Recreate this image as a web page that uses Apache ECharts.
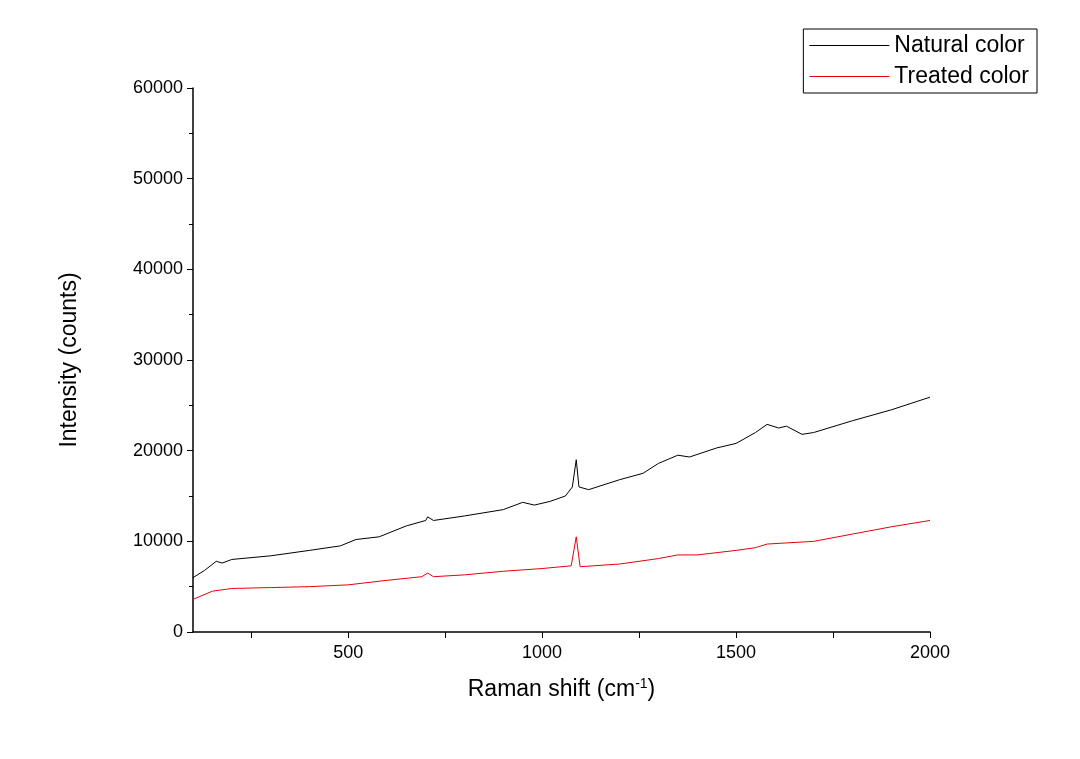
<!DOCTYPE html><html><head><meta charset="utf-8"><script src="https://cdn.jsdelivr.net/npm/echarts@6/dist/echarts.min.js"></script></head><body style="margin:0"><div id="c" style="width:1080px;height:759px"></div><script>
const naturalX=[100,130,160,175,200,300,400,480,520,580,650,700,705,720,800,900,950,980,1020,1060,1078,1088,1095,1120,1200,1260,1300,1350,1380,1450,1500,1550,1580,1610,1630,1670,1700,1800,1900,2000];
const naturalY=[6000,6800,7800,7600,8000,8400,9000,9500,10200,10500,11700,12300,12700,12300,12800,13500,14300,14000,14400,15000,16000,19000,16000,15700,16800,17500,18600,19500,19300,20300,20800,22000,22900,22500,22700,21800,22000,23300,24500,25900];
const treatedX=[100,150,200,300,400,500,600,690,705,720,800,900,1000,1075,1088,1098,1200,1300,1350,1400,1500,1550,1580,1700,1800,1900,2000];
const treatedY=[3600,4500,4800,4900,5000,5200,5700,6100,6500,6100,6300,6700,7000,7300,10500,7200,7500,8100,8500,8500,9000,9300,9700,10000,10800,11600,12300];
const xTicks=[250,500,750,1000,1250,1500,1750,2000];
const xLabels=[500,1000,1500,2000];
const zip=(a,b)=>a.map((v,i)=>[v,b[i]]);
const f='Arial, Liberation Sans, sans-serif';
const ch=echarts.init(document.getElementById('c'));
ch.setOption({animation:false,
grid:{left:193,right:150,top:88,bottom:127},
legend:{right:43,top:29,orient:'vertical',itemWidth:80,itemHeight:1,itemGap:8,padding:[5,8,5,6],borderColor:'#000',borderWidth:1,borderRadius:0,textStyle:{fontFamily:f,fontSize:23,color:'#000'},icon:'rect',data:['Natural color','Treated color']},
xAxis:{type:'value',min:100,max:2000,name:'Raman shift (cm{s|-1})',nameLocation:'middle',nameGap:45,nameTextStyle:{fontFamily:f,fontSize:23,color:'#000',rich:{s:{fontSize:14,verticalAlign:'top',padding:[0,0,12,0]}}},
axisLine:{onZero:false,lineStyle:{color:'#000',width:1.5}},splitLine:{show:false},
axisTick:{customValues:xTicks,inside:false,length:6,lineStyle:{color:'#000'}},
axisLabel:{customValues:xLabels,formatter:v=>String(v),fontFamily:f,fontSize:18,color:'#000',margin:12}},
yAxis:{type:'value',min:0,max:60000,interval:10000,name:'Intensity (counts)',nameLocation:'middle',nameGap:112,nameTextStyle:{fontFamily:f,fontSize:23,color:'#000'},
axisLine:{show:true,lineStyle:{color:'#000',width:1.5}},splitLine:{show:false},
axisTick:{show:true,length:6,lineStyle:{color:'#000'}},minorTick:{show:true,splitNumber:2,length:4,lineStyle:{color:'#000'}},
axisLabel:{formatter:v=>String(v),fontFamily:f,fontSize:18,color:'#000',margin:10}},
series:[{name:'Natural color',type:'line',data:zip(naturalX,naturalY),showSymbol:false,lineStyle:{color:'#000',width:1},itemStyle:{color:'#000'}},
{name:'Treated color',type:'line',data:zip(treatedX,treatedY),showSymbol:false,lineStyle:{color:'#e8000b',width:1},itemStyle:{color:'#e8000b'}}]});
</script></body></html>
